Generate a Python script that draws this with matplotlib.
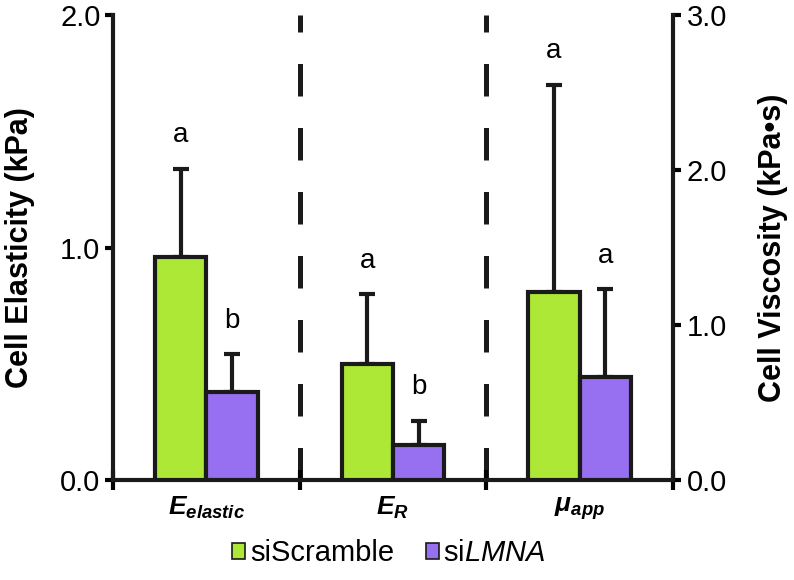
import numpy as np
import matplotlib
matplotlib.use("Agg")
from matplotlib import pyplot as plt
from matplotlib.patches import Patch

plt.rcParams['font.family'] = ['Liberation Sans', 'DejaVu Sans']
plt.rcParams['mathtext.fontset'] = 'custom'
plt.rcParams['mathtext.rm'] = 'Liberation Sans'
plt.rcParams['mathtext.it'] = 'Liberation Sans:italic'
plt.rcParams['mathtext.bf'] = 'Liberation Sans:bold:italic'

categories = [r'$\mathbf{E}_{\mathbf{elastic}}$', r'$\mathbf{E}_{\mathbf{R}}$', r'$\mathbf{\mu}_{\mathbf{app}}$']
scramble_mean = [0.96, 0.50, 1.21]
scramble_err = [0.38, 0.30, 1.34]
lmna_mean = [0.38, 0.15, 0.665]
lmna_err = [0.16, 0.105, 0.565]
scramble_letters = ['a', 'a', 'a']
lmna_letters = ['b', 'b', 'a']
left_ticks = [0.0, 1.0, 2.0]
right_ticks = [0.0, 1.0, 2.0, 3.0]

green = '#aee836'
purple = '#9670f0'
dark = '#1a1a1a'
lw = 3.0
width = 0.275

fig = plt.figure(figsize=(7.94, 5.80), dpi=100)
ax = fig.add_axes([0.1423, 0.1724, 0.7053, 0.8016])
ax2 = ax.twinx()

x = np.arange(len(categories))

def draw_pair(a, i):
    for off, mean, err, col, letters in [(-width / 2, scramble_mean, scramble_err, green, scramble_letters),
                                          (width / 2, lmna_mean, lmna_err, purple, lmna_letters)]:
        a.bar(x[i] + off, mean[i], width, color=col, edgecolor=dark, linewidth=lw, zorder=3)
        a.errorbar(x[i] + off, mean[i], yerr=[[0], [err[i]]], fmt='none', ecolor=dark,
                   elinewidth=lw, capsize=6, capthick=lw, zorder=2)
        a.annotate(letters[i], (x[i] + off, mean[i] + err[i]), xytext=(0, 19),
                   textcoords='offset points', ha='center', va='baseline', fontsize=20)

draw_pair(ax, 0)
draw_pair(ax, 1)
draw_pair(ax2, 2)

ax.set_xlim(-0.5, 2.5)
ax.set_ylim(0, 2.0)
ax2.set_ylim(0, 3.0)

# dashed separators between groups
for xb in [0.5, 1.5]:
    ax.axvline(xb, color=dark, linewidth=3.6, linestyle=(0, (6.5, 6.3)), zorder=1)

ax.set_xticks([-0.5, 0.5, 1.5, 2.5])
ax.set_xticklabels([])
ax.set_xticks(x, minor=True)
ax.set_xticklabels(categories, minor=True, fontsize=19)
ax.tick_params(axis='x', which='major', direction='inout', length=14, width=lw)
ax.tick_params(axis='x', which='minor', length=0, pad=11)

ax.set_yticks(left_ticks)
ax.set_yticklabels([f'{t:.1f}' for t in left_ticks], fontsize=21)
ax.tick_params(axis='y', length=6, width=lw, pad=3)
ax2.set_yticks(right_ticks)
ax2.set_yticklabels([f'{t:.1f}' for t in right_ticks], fontsize=21)
ax2.tick_params(axis='y', length=6, width=lw, pad=4)

for a in (ax, ax2):
    a.spines['top'].set_visible(False)
    for s in ('left', 'right', 'bottom'):
        a.spines[s].set_linewidth(lw)
        a.spines[s].set_color(dark)
ax.spines['right'].set_visible(False)
ax2.spines['left'].set_visible(False)
ax2.spines['bottom'].set_visible(False)

ax.set_ylabel('Cell Elasticity (kPa)', fontsize=22, fontweight='bold')
ax.yaxis.set_label_coords(-0.139, 0.5)
ax2.set_ylabel('Cell Viscosity (kPa•s)', fontsize=22, fontweight='bold')
ax2.yaxis.set_label_coords(1.152, 0.5)

handles = [Patch(facecolor=green, edgecolor=dark, linewidth=1.2),
           Patch(facecolor=purple, edgecolor=dark, linewidth=1.2)]
fig.legend(handles, ['siScramble', r'si$\mathit{LMNA}$'], loc='center', bbox_to_anchor=(0.49, 0.046),
           ncol=2, frameon=False, fontsize=21, handlelength=0.45, handleheight=0.45,
           handletextpad=0.15, columnspacing=1.1)

fig.savefig('out.png', dpi=100)
